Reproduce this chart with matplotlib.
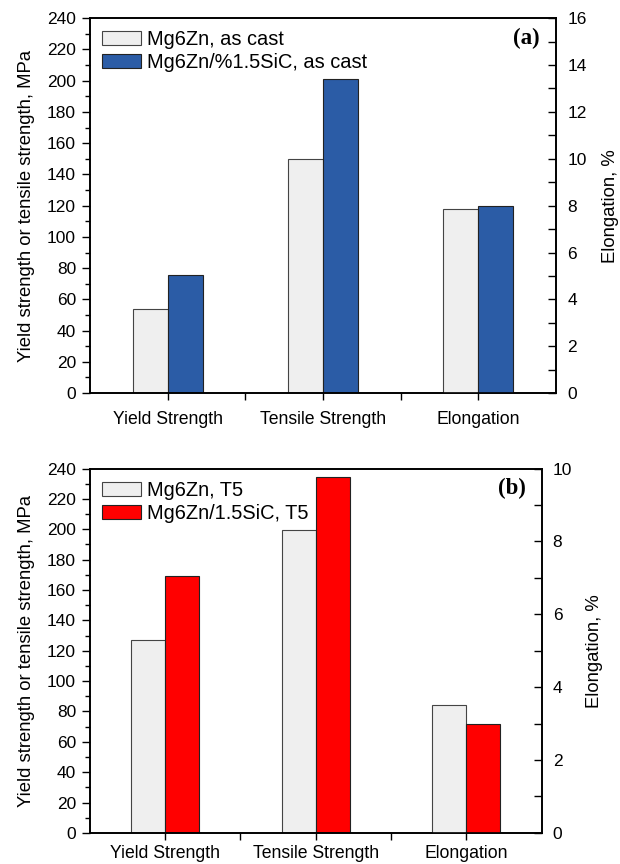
import numpy as np
import matplotlib
matplotlib.use("Agg")
import matplotlib.pyplot as plt
from matplotlib.ticker import MultipleLocator

plt.rcParams["font.family"] = ["Liberation Sans", "DejaVu Sans"]

categories = ["Yield Strength", "Tensile Strength", "Elongation"]

# panel (a) - as cast
cast_base_mpa = [54, 150]        # yield, tensile (MPa)
cast_sic_mpa = [75.5, 201]
cast_base_elong = 7.85           # %
cast_sic_elong = 8.0
cast_labels = ["Mg6Zn, as cast", "Mg6Zn/%1.5SiC, as cast"]

# panel (b) - T5
t5_base_mpa = [127.2, 199.2]
t5_sic_mpa = [169, 234.3]
t5_base_elong = 3.5
t5_sic_elong = 3.0
t5_labels = ["Mg6Zn, T5", "Mg6Zn/1.5SiC, T5"]

GRAY = "#efefef"
BLUE = "#2b5ca6"
RED = "#ff0000"
W = 0.225
x = np.arange(len(categories))


def panel(rect, base_mpa, sic_mpa, base_el, sic_el, labels, color, el_max, tag,
          xpad, rpad):
    ax = fig.add_axes(rect)
    ax2 = ax.twinx()
    b1 = ax.bar(x[:2] - W / 2, base_mpa, W, color=GRAY, edgecolor="#444444", lw=0.8)
    b2 = ax.bar(x[:2] + W / 2, sic_mpa, W, color=color, edgecolor="#222222", lw=0.8)
    ax2.bar(x[2] - W / 2, base_el, W, color=GRAY, edgecolor="#444444", lw=0.8)
    ax2.bar(x[2] + W / 2, sic_el, W, color=color, edgecolor="#222222", lw=0.8)

    ax.set_xlim(-0.5, 2.5)
    ax.set_ylim(0, 240)
    ax2.set_ylim(0, el_max)
    ax.set_xticks(x)
    ax.set_xticklabels(categories, fontsize=12.7)
    ax.set_xticks([0.5, 1.5], minor=True)
    ax.tick_params(axis="x", which="both", direction="out", length=5, width=1, pad=xpad)
    ax.yaxis.set_major_locator(MultipleLocator(20))
    ax.yaxis.set_minor_locator(MultipleLocator(10))
    ax.tick_params(axis="y", which="major", direction="out", length=6, width=1,
                   labelsize=12.5, pad=4)
    ax.tick_params(axis="y", which="minor", direction="out", length=3.5, width=1)
    ax2.yaxis.set_major_locator(MultipleLocator(2))
    ax2.yaxis.set_minor_locator(MultipleLocator(1))
    ax2.tick_params(axis="y", which="major", direction="in", length=6, width=1,
                    labelsize=12.5, pad=8)
    ax2.tick_params(axis="y", which="minor", direction="in", length=6, width=1)
    for a in (ax, ax2):
        for s in a.spines.values():
            s.set_linewidth(1.2)
    ax.set_ylabel("Yield strength or tensile strength, MPa", fontsize=13.3, labelpad=9)
    ax2.set_ylabel("Elongation, %", fontsize=13.3, labelpad=rpad)
    ax.legend([b1, b2], labels, loc="upper left", frameon=False, fontsize=14.4,
              handlelength=1.95, handleheight=0.7, handletextpad=0.3,
              labelspacing=0.2, borderaxespad=0.2, bbox_to_anchor=(0.0, 1.0))
    ax.text(0.965, 0.945, tag, transform=ax.transAxes, ha="right", va="center",
            fontsize=16.5, fontweight="bold", family="Liberation Serif")
    return ax, ax2


fig = plt.figure(figsize=(6.2, 8.64), dpi=100)
panel([0.145, 0.545, 0.752, 0.434], cast_base_mpa, cast_sic_mpa,
      cast_base_elong, cast_sic_elong, cast_labels, BLUE, 16, "(a)", 8, 11)
panel([0.145, 0.036, 0.7285, 0.4217], t5_base_mpa, t5_sic_mpa,
      t5_base_elong, t5_sic_elong, t5_labels, RED, 10, "(b)", 4, 10)

fig.savefig("out.png", dpi=100)
